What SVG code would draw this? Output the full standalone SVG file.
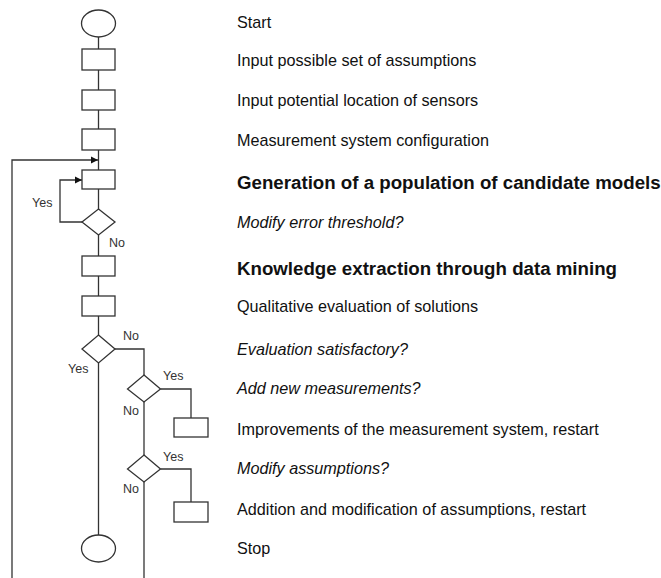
<svg xmlns="http://www.w3.org/2000/svg" width="661" height="578" viewBox="0 0 661 578">
<defs>
<style>
.shape{fill:#fff;stroke:#333;stroke-width:1.3}
.line{fill:none;stroke:#333;stroke-width:1.3}
.t{font-family:"Liberation Sans",Arial,sans-serif;font-size:16.2px;fill:#111}
.b{font-family:"Liberation Sans",Arial,sans-serif;font-size:18.7px;font-weight:bold;fill:#111}
.i{font-family:"Liberation Sans",Arial,sans-serif;font-size:16.2px;font-style:italic;fill:#111}
.lbl{font-family:"Liberation Sans",Arial,sans-serif;font-size:12.5px;fill:#333}
</style>
<marker id="arr" markerWidth="8" markerHeight="8" refX="7" refY="4" orient="auto" markerUnits="userSpaceOnUse">
<path d="M0,0.5 L7,4 L0,7.5 Z" fill="#111"/>
</marker>
</defs>
<rect width="661" height="578" fill="#fff"/>
<g id="connectors">
<line class="line" x1="98.5" y1="37" x2="98.5" y2="49"/>
<line class="line" x1="98.5" y1="70" x2="98.5" y2="90"/>
<line class="line" x1="98.5" y1="110" x2="98.5" y2="129"/>
<line class="line" x1="98.5" y1="150" x2="98.5" y2="170"/>
<polyline class="line" points="12,578 12,160 98,160" marker-end="url(#arr)"/>
<line class="line" x1="98.5" y1="189" x2="98.5" y2="209"/>
<polyline class="line" points="82,222 60,222 60,180 82,180" marker-end="url(#arr)"/>
<line class="line" x1="98.5" y1="235" x2="98.5" y2="256"/>
<line class="line" x1="98.5" y1="276" x2="98.5" y2="296"/>
<line class="line" x1="98.5" y1="316" x2="98.5" y2="335"/>
<line class="line" x1="98.5" y1="363" x2="98.5" y2="535"/>
<polyline class="line" points="115,349 144,349 144,375"/>
<polyline class="line" points="160.5,389 191,389 191,418"/>
<line class="line" x1="144" y1="402" x2="144" y2="455"/>
<polyline class="line" points="160.5,469 191,469 191,502"/>
<line class="line" x1="144" y1="482" x2="144" y2="578"/>
<text class="lbl" x="32" y="207">Yes</text>
<text class="lbl" x="109" y="247">No</text>
<text class="lbl" x="123" y="340">No</text>
<text class="lbl" x="68" y="373">Yes</text>
<text class="lbl" x="163" y="380">Yes</text>
<text class="lbl" x="123" y="415">No</text>
<text class="lbl" x="163" y="461">Yes</text>
<text class="lbl" x="123" y="493">No</text>
</g>
<g id="start"><ellipse class="shape" cx="98.5" cy="23.5" rx="17" ry="13.5"/><text class="t" x="237" y="28">Start</text></g>
<g id="input-assumptions"><rect class="shape" x="82" y="49" width="33" height="21"/><text class="t" x="237" y="66">Input possible set of assumptions</text></g>
<g id="input-sensors"><rect class="shape" x="82" y="90" width="33" height="20"/><text class="t" x="237" y="106">Input potential location of sensors</text></g>
<g id="measurement-config"><rect class="shape" x="82" y="129" width="33" height="21"/><text class="t" x="237" y="146">Measurement system configuration</text></g>
<g id="generation"><rect class="shape" x="82" y="170" width="33" height="19"/><text class="b" x="237" y="189">Generation of a population of candidate models</text></g>
<g id="modify-threshold"><polygon class="shape" points="98.5,209 115,222 98.5,235 82,222"/><text class="i" x="237" y="228">Modify error threshold?</text></g>
<g id="knowledge"><rect class="shape" x="82" y="256" width="33" height="20"/><text class="b" x="237" y="275">Knowledge extraction through data mining</text></g>
<g id="qualitative"><rect class="shape" x="82" y="296" width="33" height="20"/><text class="t" x="237" y="312">Qualitative evaluation of solutions</text></g>
<g id="evaluation"><polygon class="shape" points="98.5,335 115,349 98.5,363 82,349"/><text class="i" x="237" y="355">Evaluation satisfactory?</text></g>
<g id="add-measurements"><polygon class="shape" points="144,375 160.5,389 144,402 127.5,389"/><text class="i" x="237" y="394">Add new measurements?</text></g>
<g id="improvements"><rect class="shape" x="174" y="418" width="34" height="19"/><text class="t" x="237" y="435">Improvements of the measurement system, restart</text></g>
<g id="modify-assumptions"><polygon class="shape" points="144,455 160.5,469 144,482 127.5,469"/><text class="i" x="237" y="474">Modify assumptions?</text></g>
<g id="addition"><rect class="shape" x="174" y="502" width="34" height="20"/><text class="t" x="237" y="515">Addition and modification of assumptions, restart</text></g>
<g id="stop"><ellipse class="shape" cx="98.5" cy="548.5" rx="17" ry="13.5"/><text class="t" x="237" y="554">Stop</text></g>
</svg>
